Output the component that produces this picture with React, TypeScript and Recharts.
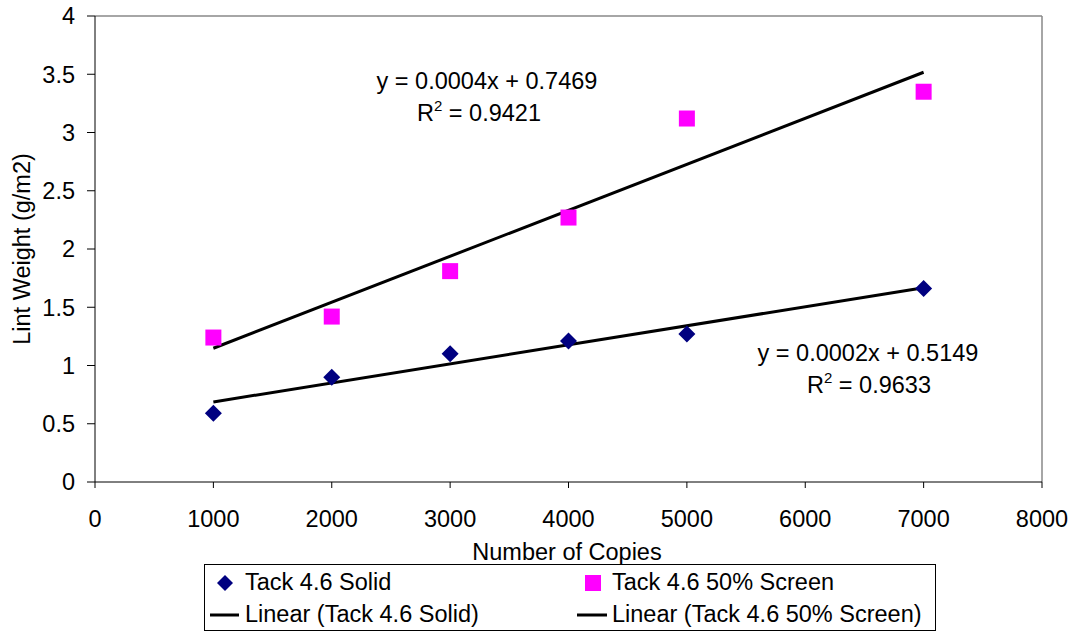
import { ScatterChart, Scatter, XAxis, YAxis, ReferenceLine, Customized } from 'recharts';

const copies = [1000, 2000, 3000, 4000, 5000, 7000];
const solidWeight = [0.59, 0.9, 1.1, 1.21, 1.27, 1.66];
const screenWeight = [1.24, 1.42, 1.81, 2.27, 3.12, 3.35];

// trendline end points
const trendX = [1000, 7000];
const solidTrend = [0.687, 1.668];
const screenTrend = [1.148, 3.517];

const xTicks = [0, 1000, 2000, 3000, 4000, 5000, 6000, 7000, 8000];
const yTicks = [0, 0.5, 1, 1.5, 2, 2.5, 3, 3.5, 4];

const solidData = copies.map((x, i) => ({ x, y: solidWeight[i] }));
const screenData = copies.map((x, i) => ({ x, y: screenWeight[i] }));
const solidTrendData = trendX.map((x, i) => ({ x, y: solidTrend[i] }));
const screenTrendData = trendX.map((x, i) => ({ x, y: screenTrend[i] }));

const NAVY = '#000080';
const MAGENTA = '#FF00FF';
const FONT = '"Liberation Sans", Arial, sans-serif';
const FS = 23.5;

const Diamond = (props: any) => {
  const { cx, cy } = props;
  const r = 8.5;
  return <polygon points={`${cx},${cy - r} ${cx + r},${cy} ${cx},${cy + r} ${cx - r},${cy}`} fill={NAVY} />;
};

const Square = (props: any) => {
  const { cx, cy } = props;
  return <rect x={cx - 8} y={cy - 8} width={16} height={16} fill={MAGENTA} />;
};

const NoDot = () => <g />;

const Annotations = () => (
  <g fontFamily={FONT} fontSize={FS} fill="#000">
    <text x={487} y={89} textAnchor="middle">y = 0.0004x + 0.7469</text>
    <text x={479} y={121} textAnchor="middle">
      R<tspan fontSize={15} dy={-10}>2</tspan><tspan dy={10}> = 0.9421</tspan>
    </text>
    <text x={868} y={361} textAnchor="middle">y = 0.0002x + 0.5149</text>
    <text x={869} y={393} textAnchor="middle">
      R<tspan fontSize={15} dy={-10}>2</tspan><tspan dy={10}> = 0.9633</tspan>
    </text>
    <text x={567} y={560} textAnchor="middle">Number of Copies</text>
    <text x={30} y={249} textAnchor="middle" transform="rotate(-90 30 249)">Lint Weight (g/m2)</text>
  </g>
);

const legendText: React.CSSProperties = {
  position: 'absolute',
  fontSize: FS,
  lineHeight: '26px',
  whiteSpace: 'nowrap',
};

const Legend = () => (
  <div
    style={{
      position: 'absolute',
      left: 204,
      top: 564,
      width: 732,
      height: 67,
      border: '1px solid #000',
      boxSizing: 'border-box',
      fontFamily: FONT,
      background: '#fff',
    }}
  >
    <svg width={730} height={65} style={{ position: 'absolute', left: 0, top: 0 }}>
      <polygon points="20,10 28,18 20,26 12,18" fill={NAVY} />
      <rect x={380} y={10} width={16} height={16} fill={MAGENTA} />
      <line x1={5} x2={34} y1={50} y2={50} stroke="#000" strokeWidth={3} />
      <line x1={372} x2={402} y1={50} y2={50} stroke="#000" strokeWidth={3} />
    </svg>
    <div style={{ ...legendText, left: 40, top: 4 }}>Tack 4.6 Solid</div>
    <div style={{ ...legendText, left: 407, top: 4 }}>Tack 4.6 50% Screen</div>
    <div style={{ ...legendText, left: 40, top: 36 }}>Linear (Tack 4.6 Solid)</div>
    <div style={{ ...legendText, left: 407, top: 36 }}>Linear (Tack 4.6 50% Screen)</div>
  </div>
);

export default function App() {
  return (
    <div style={{ position: 'absolute', left: 0, top: 0, width: 1074, height: 632, background: '#fff' }}>
      <ScatterChart width={1074} height={632} margin={{ top: 16, right: 32, bottom: 110, left: 0 }}>
        <XAxis
          type="number"
          dataKey="x"
          domain={[0, 8000]}
          ticks={xTicks}
          interval={0}
          stroke="#000"
          tickSize={6}
          tickMargin={22}
          height={40}
          tick={{ fill: '#000', fontSize: FS, fontFamily: FONT }}
        />
        <YAxis
          type="number"
          dataKey="y"
          domain={[0, 4]}
          ticks={yTicks}
          interval={0}
          stroke="#000"
          tickSize={8}
          tickMargin={12}
          width={95}
          tick={{ fill: '#000', fontSize: FS, fontFamily: FONT }}
        />
        <ReferenceLine y={4} stroke="#888" strokeWidth={1.5} />
        <ReferenceLine x={8000} stroke="#888" strokeWidth={1.5} />
        <Scatter data={solidTrendData} line={{ stroke: '#000', strokeWidth: 3 }} shape={NoDot} isAnimationActive={false} />
        <Scatter data={screenTrendData} line={{ stroke: '#000', strokeWidth: 3 }} shape={NoDot} isAnimationActive={false} />
        <Scatter data={solidData} shape={Diamond} isAnimationActive={false} />
        <Scatter data={screenData} shape={Square} isAnimationActive={false} />
        <Customized component={Annotations} />
      </ScatterChart>
      <Legend />
    </div>
  );
}
